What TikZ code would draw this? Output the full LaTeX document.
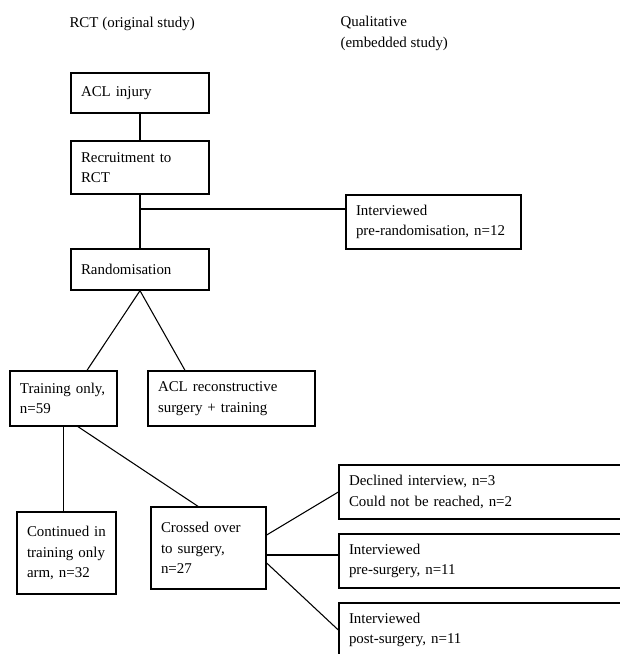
\documentclass[tikz,border=0pt]{standalone}
\usepackage{fontspec}
\setmainfont{Liberation Serif}
\usetikzlibrary{calc}

\begin{document}
\begin{tikzpicture}[x=0.75pt, y=-0.75pt, line width=0.8pt,
    font=\fontsize{11.2pt}{15.5pt}\selectfont,
    box/.style={draw, line width=1pt, align=left, inner xsep=7.5pt, inner ysep=0pt}]
  \def\u{0.75pt}
  \useasboundingbox (0,0) rectangle (620,654);
  \clip (0,0) rectangle (620,654);

  % column headings
  \node[anchor=base west, inner sep=0pt] (rcthead) at (69,27) {RCT (original study)};
  \node[anchor=north west, inner sep=0pt, align=left] (qualhead) at (340,16) {Qualitative\\(embedded study)};

  % RCT column
  \node[box, minimum width=138*\u, minimum height=40*\u, text width=118*\u] (injury) at (140,93) {ACL injury};
  \node[box, minimum width=138*\u, minimum height=53*\u, text width=118*\u] (recruit) at (140,167.5) {Recruitment~to\\RCT};
  \node[box, minimum width=138*\u, minimum height=41*\u, text width=118*\u] (random) at (140,269.5) {Randomisation};
  \node[box, minimum width=107*\u, minimum height=55*\u, text width=87*\u] (training) at (63.5,398.5) {Training~only,\\n=59};
  \node[box, minimum width=167*\u, minimum height=55*\u, text width=147*\u] (surgery) at (231.5,398.5) {ACL~reconstructive\\surgery~+~training};
  \node[box, minimum width=99*\u, minimum height=82*\u, text width=79*\u] (continued) at (66.5,553) {Continued~in\\training~only\\arm,~n=32};
  \node[box, minimum width=115*\u, minimum height=82*\u, text width=95*\u] (crossed) at (208.5,548) {Crossed~over\\to~surgery,\\n=27};

  % qualitative column
  \node[box, minimum width=175*\u, minimum height=54*\u, text width=155*\u] (prerand) at (433.5,222) {Interviewed\\pre-randomisation,~n=12};
  \node[box, minimum width=291*\u, minimum height=54*\u, text width=271*\u] (declined) at (484.5,492) {Declined interview, n=3\\Could not be reached, n=2};
  \node[box, minimum width=291*\u, minimum height=54*\u, text width=271*\u] (presurg) at (484.5,561) {Interviewed\\pre-surgery, n=11};
  \node[box, minimum width=291*\u, minimum height=54*\u, text width=271*\u] (postsurg) at (484.5,630) {Interviewed\\post-surgery, n=11};

  % connectors
  \draw (injury) -- (recruit);
  \draw (recruit) -- (random);
  \coordinate (split) at (140,209);
  \draw (split) -- (split -| prerand.west);
  \draw (random.south) -- ([xshift=23.5*\u]training.north);
  \draw (random.south) -- ([xshift=-46.5*\u]surgery.north);
  \draw (training.south) -- (training.south |- continued.north);
  \draw ([xshift=14.5*\u]training.south) -- ([xshift=-10.5*\u]crossed.north);
  \draw ([yshift=13*\u]crossed.east) -- (declined.west);
  \draw ([yshift=-7*\u]crossed.east) -- ([yshift=-7*\u]crossed.east -| presurg.west);
  \draw ([yshift=-15*\u]crossed.east) -- (postsurg.west);
\end{tikzpicture}
\end{document}
